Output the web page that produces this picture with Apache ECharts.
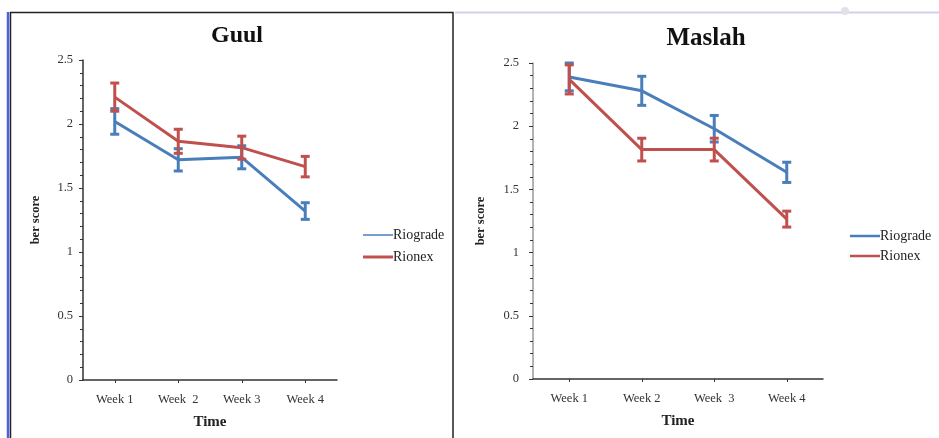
<!DOCTYPE html>
<html>
<head>
<meta charset="utf-8">
<script src="https://cdn.jsdelivr.net/npm/echarts@6/dist/echarts.min.js"></script>
<style>
html,body{margin:0;padding:0;background:#fff;}
#c{width:939px;height:438px;}
</style>
</head>
<body>
<div id="c"></div>
<script>
// ---- data ----
const weeksGuul = ['Week 1', 'Week  2', 'Week 3', 'Week 4'];
const weeksMaslah = ['Week 1', 'Week 2', 'Week  3', 'Week 4'];
const yTicks = [0, 0.5, 1, 1.5, 2, 2.5];

const guulRiograde = [2.02, 1.72, 1.74, 1.32];
const guulRiogradeErr = [0.10, 0.087, 0.09, 0.065];
const guulRionex = [2.21, 1.865, 1.815, 1.667];
const guulRionexErr = [0.11, 0.094, 0.09, 0.08];

const maslahRiograde = [2.39, 2.28, 1.98, 1.635];
const maslahRiogradeErr = [0.11, 0.115, 0.105, 0.08];
const maslahRionex = [2.37, 1.815, 1.815, 1.265];
const maslahRionexErr = [0.115, 0.09, 0.09, 0.063];

const BLUE = '#4a7ebb';
const RED = '#c0504d';
const SERIF = '"Liberation Serif","DejaVu Serif",serif';

function errData(means, errs) {
  return means.map((m, i) => [i, m - errs[i], m + errs[i]]);
}
function errSeries(name, means, errs, color, gi) {
  return {
    type: 'custom', name: name, xAxisIndex: gi, yAxisIndex: gi,
    data: errData(means, errs),
    encode: { x: 0, y: [1, 2] },
    z: 3,
    renderItem: function (params, api) {
      const x = api.value(0);
      const lo = api.coord([x, api.value(1)]);
      const hi = api.coord([x, api.value(2)]);
      const w = 4.5;
      const st = { stroke: color, lineWidth: 3 };
      return {
        type: 'group',
        children: [
          { type: 'line', shape: { x1: lo[0], y1: lo[1], x2: hi[0], y2: hi[1] }, style: st },
          { type: 'line', shape: { x1: lo[0] - w, y1: lo[1], x2: lo[0] + w, y2: lo[1] }, style: st },
          { type: 'line', shape: { x1: hi[0] - w, y1: hi[1], x2: hi[0] + w, y2: hi[1] }, style: st }
        ]
      };
    }
  };
}
function lineSeries(name, vals, color, gi, z) {
  return {
    type: 'line', name: name, xAxisIndex: gi, yAxisIndex: gi,
    data: vals, symbol: 'none', z: z,
    lineStyle: { color: color, width: 3 }, itemStyle: { color: color }
  };
}
function yAxis(gi, lineColor, labelMargin) {
  return {
    type: 'value', gridIndex: gi, min: yTicks[0], max: yTicks[yTicks.length - 1], interval: 0.5,
    name: 'ber score', nameLocation: 'middle', nameGap: gi === 0 ? 41 : 46,
    nameTextStyle: { fontFamily: SERIF, fontSize: 12.5, color: '#222', fontWeight: 'bold' },
    axisLine: { show: true, lineStyle: { color: lineColor, width: 1.5 } },
    axisTick: { show: true, length: 4, lineStyle: { color: '#333' } },
    minorTick: { show: true, splitNumber: 5, length: 3, lineStyle: { color: '#333' } },
    splitLine: { show: false },
    axisLabel: { fontFamily: SERIF, fontSize: 12.5, color: '#333', margin: labelMargin,
      formatter: v => String(v) }
  };
}
function xAxis(gi, cats) {
  return {
    type: 'category', gridIndex: gi, data: cats, boundaryGap: true,
    name: 'Time', nameLocation: 'middle', nameGap: 35,
    nameTextStyle: { fontFamily: SERIF, fontSize: 15, color: '#222', fontWeight: 'bold' },
    axisLine: { show: true, lineStyle: { color: '#333', width: 1.5 } },
    axisTick: { show: true, alignWithLabel: true, length: 3, lineStyle: { color: '#333' } },
    axisLabel: { fontFamily: SERIF, fontSize: 12.5, color: '#333', margin: 13 }
  };
}

const chart = echarts.init(document.getElementById('c'), null, { renderer: 'canvas' });
chart.setOption({
  backgroundColor: '#fff',
  animation: false,
  title: [
    { text: 'Guul', left: 232, top: 19, textAlign: 'center',
      textStyle: { fontFamily: SERIF, fontSize: 24, fontWeight: 'bold', color: '#111' } },
    { text: 'Maslah', left: 701, top: 21, textAlign: 'center',
      textStyle: { fontFamily: SERIF, fontSize: 25, fontWeight: 'bold', color: '#111' } }
  ],
  grid: [
    { left: 83, top: 60, width: 254, height: 320 },
    { left: 533, top: 63, width: 290, height: 316 }
  ],
  xAxis: [xAxis(0, weeksGuul), xAxis(1, weeksMaslah)],
  yAxis: [yAxis(0, '#333', 10), yAxis(1, '#999', 14)],
  legend: [
    { left: 358, top: 223, orient: 'vertical', itemWidth: 30, itemHeight: 14, itemGap: 8,
      selectedMode: false,
      textStyle: { fontFamily: SERIF, fontSize: 14, color: '#222', padding: [0, 0, 0, -5] },
      data: [
        { name: 'Riograde', icon: 'path://M0,0L30,0L30,1.5L0,1.5Z', itemStyle: { color: BLUE } },
        { name: 'Rionex', icon: 'path://M0,0L30,0L30,3L0,3Z', itemStyle: { color: RED } }
      ] },
    { left: 845, top: 224, orient: 'vertical', itemWidth: 30, itemHeight: 14, itemGap: 6,
      selectedMode: false,
      textStyle: { fontFamily: SERIF, fontSize: 14, color: '#222', padding: [0, 0, 0, -5] },
      data: [
        { name: 'Riograde', icon: 'path://M0,0L30,0L30,2.5L0,2.5Z', itemStyle: { color: BLUE } },
        { name: 'Rionex', icon: 'path://M0,0L30,0L30,2.5L0,2.5Z', itemStyle: { color: RED } }
      ] }
  ],
  graphic: [
    { type: 'line', shape: { x1: 8, y1: 12, x2: 8, y2: 438 }, style: { stroke: '#4b5fe0', lineWidth: 2.5 } },
    { type: 'rect', shape: { x: 10.5, y: 12.5, width: 442.5, height: 440 },
      style: { fill: 'none', stroke: '#222', lineWidth: 1.5 } },
    { type: 'line', shape: { x1: 455, y1: 12.5, x2: 939, y2: 12.5 }, style: { stroke: '#cfcff2', lineWidth: 2 } },
    { type: 'circle', shape: { cx: 845, cy: 11, r: 4 }, style: { fill: '#e2e2e6' } }
  ],
  series: [
    lineSeries('Riograde', guulRiograde, BLUE, 0, 2),
    errSeries('Riograde', guulRiograde, guulRiogradeErr, BLUE, 0),
    lineSeries('Rionex', guulRionex, RED, 0, 4),
    Object.assign(errSeries('Rionex', guulRionex, guulRionexErr, RED, 0), { z: 5 }),
    lineSeries('Riograde', maslahRiograde, BLUE, 1, 2),
    errSeries('Riograde', maslahRiograde, maslahRiogradeErr, BLUE, 1),
    lineSeries('Rionex', maslahRionex, RED, 1, 4),
    Object.assign(errSeries('Rionex', maslahRionex, maslahRionexErr, RED, 1), { z: 5 })
  ]
});
</script>
</body>
</html>
